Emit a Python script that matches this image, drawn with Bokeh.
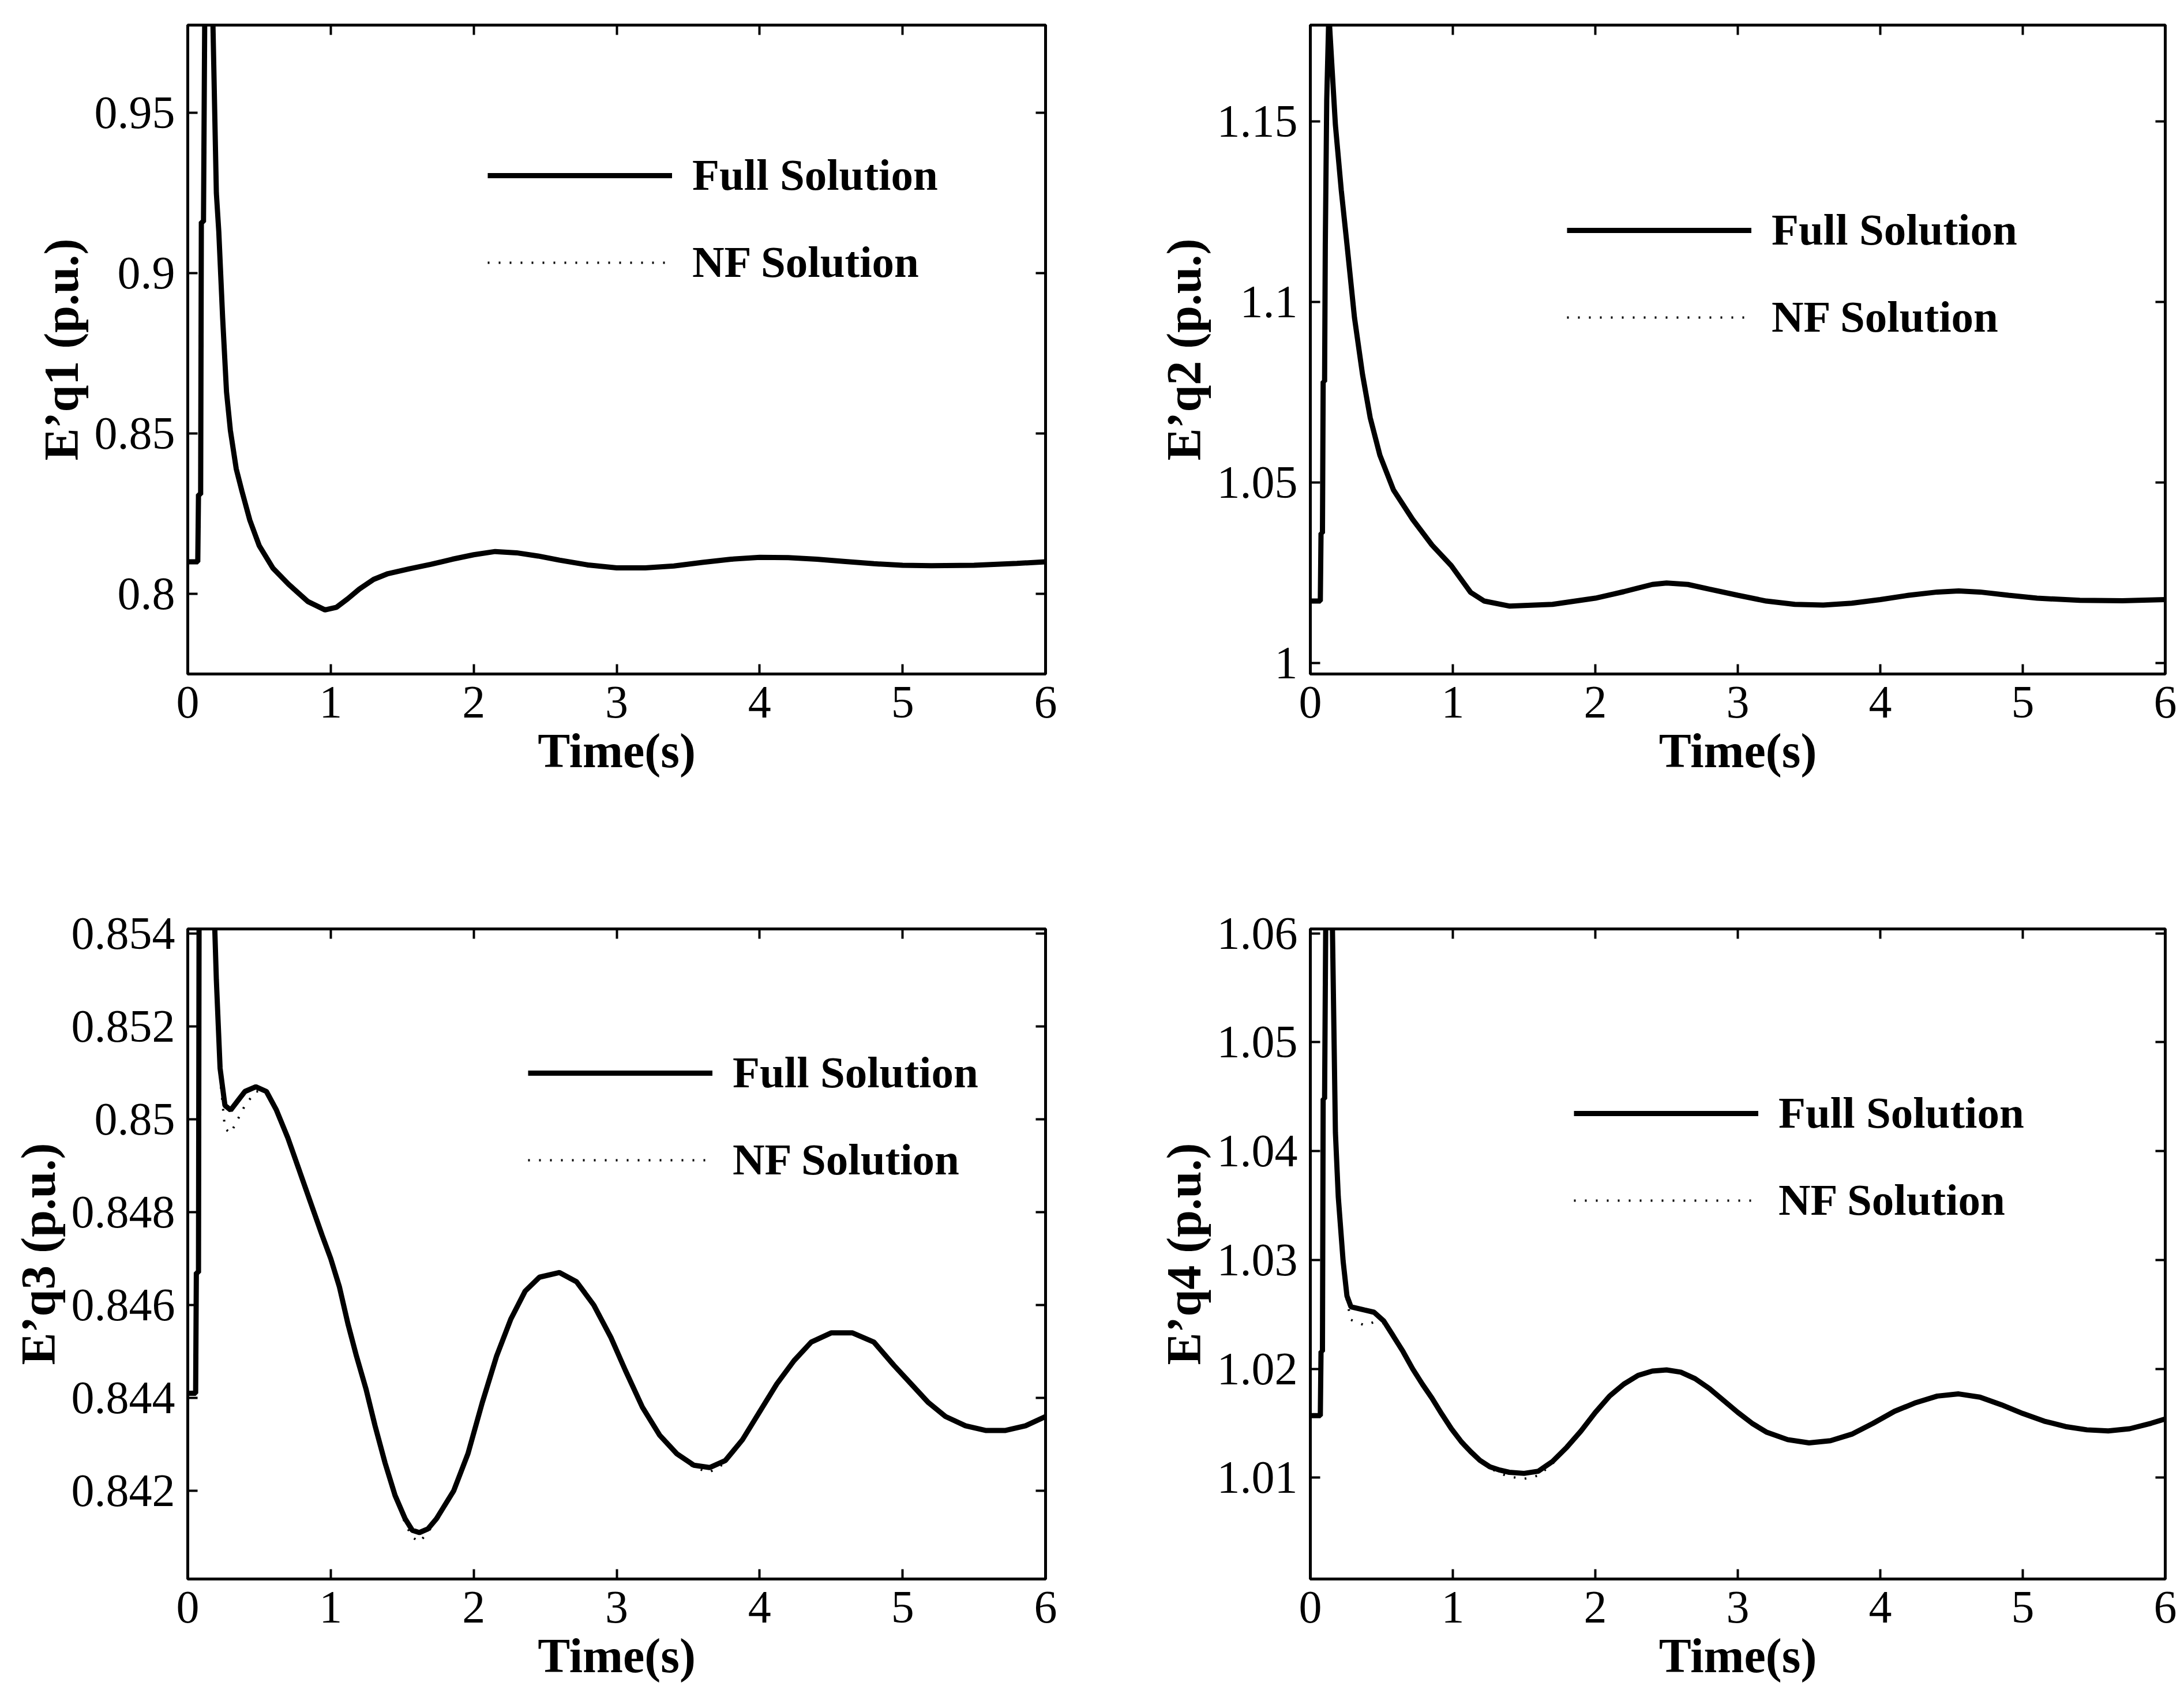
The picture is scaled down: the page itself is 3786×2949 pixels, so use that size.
from bokeh.plotting import figure
from bokeh.models import Range1d, FixedTicker, LinearAxis, Legend, LegendItem
from bokeh.layouts import column, row
from bokeh.embed import file_html
from bokeh.resources import INLINE

# ---------------- data ----------------
time_1 = [0.0, 0.07, 0.075, 0.09, 0.095, 0.11, 0.12, 0.15, 0.175, 0.20, 0.217, 0.244, 0.271, 0.298,
          0.339, 0.379, 0.434, 0.50, 0.596, 0.705, 0.84, 0.96, 1.04, 1.12, 1.2, 1.3, 1.4, 1.55,
          1.7, 1.85, 2.0, 2.15, 2.3, 2.45, 2.6, 2.8, 3.0, 3.2, 3.4, 3.6, 3.8, 4.0, 4.2, 4.4,
          4.6, 4.8, 5.0, 5.2, 5.5, 5.8, 6.0]
full_1 = [0.810, 0.810, 0.831, 0.831, 0.916, 0.916, 0.990, 1.000, 0.980, 0.925, 0.913, 0.886, 0.863, 0.851,
          0.839, 0.832, 0.823, 0.815, 0.808, 0.803, 0.7976, 0.795, 0.7958, 0.7985, 0.8015, 0.8045, 0.8063, 0.8078,
          0.8092, 0.8108, 0.8122, 0.8132, 0.8128, 0.8118, 0.8105, 0.8090, 0.8081, 0.8081, 0.8087, 0.8098, 0.8108,
          0.8114, 0.8113, 0.8108, 0.8101, 0.8094, 0.8089, 0.8088, 0.8089, 0.8095, 0.8100]
nf_1 = [0.810, 0.810, 0.831, 0.831, 0.916, 0.916, 0.990, 1.000, 0.980, 0.925, 0.913, 0.886, 0.863, 0.851,
        0.839, 0.832, 0.823, 0.815, 0.808, 0.803, 0.7974, 0.7948, 0.7955, 0.7984, 0.8015, 0.8045, 0.8063, 0.8078,
        0.8092, 0.8108, 0.8122, 0.8132, 0.8128, 0.8118, 0.8105, 0.8090, 0.8081, 0.8081, 0.8087, 0.8098, 0.8108,
        0.8114, 0.8113, 0.8108, 0.8101, 0.8094, 0.8089, 0.8088, 0.8089, 0.8095, 0.8100]

time_2 = [0.0, 0.07, 0.075, 0.085, 0.09, 0.10, 0.105, 0.115, 0.13, 0.149, 0.176, 0.217, 0.257, 0.31,
          0.366, 0.42, 0.488, 0.583, 0.718, 0.854, 0.989, 1.125, 1.22, 1.4, 1.7, 2.0, 2.2, 2.4,
          2.5, 2.65, 2.8, 3.0, 3.2, 3.4, 3.6, 3.8, 4.0, 4.2, 4.4, 4.55, 4.7, 4.9, 5.1, 5.4, 5.7, 6.0]
full_2 = [1.0172, 1.0172, 1.036, 1.036, 1.078, 1.078, 1.116, 1.156, 1.180, 1.167, 1.149, 1.131, 1.116, 1.0956,
          1.080, 1.068, 1.0576, 1.048, 1.0398, 1.0327, 1.027, 1.0196, 1.0172, 1.0158, 1.0163, 1.0180, 1.0198, 1.0218,
          1.0222, 1.0218, 1.0205, 1.0188, 1.0172, 1.0163, 1.0161, 1.0166, 1.0176, 1.0188, 1.0197, 1.0200, 1.0197,
          1.0188, 1.0180, 1.0174, 1.0173, 1.0176]
nf_2 = [1.0172, 1.0172, 1.036, 1.036, 1.078, 1.078, 1.116, 1.156, 1.180, 1.167, 1.149, 1.131, 1.116, 1.0956,
        1.080, 1.068, 1.0576, 1.048, 1.0398, 1.0327, 1.027, 1.0196, 1.0172, 1.0157, 1.0163, 1.0180, 1.0198, 1.0218,
        1.0222, 1.0218, 1.0205, 1.0188, 1.0172, 1.0163, 1.0160, 1.0166, 1.0176, 1.0188, 1.0197, 1.0200, 1.0197,
        1.0188, 1.0180, 1.0174, 1.0173, 1.0176]

time_3 = [0.0, 0.055, 0.06, 0.075, 0.08, 0.17, 0.20, 0.226, 0.26, 0.30, 0.35, 0.40, 0.476, 0.55,
          0.62, 0.70, 0.78, 0.86, 0.94, 1.0, 1.06, 1.12, 1.18, 1.246, 1.31, 1.38, 1.45, 1.52,
          1.57, 1.62, 1.68, 1.74, 1.86, 1.96, 2.06, 2.16, 2.26, 2.36, 2.46, 2.6, 2.72, 2.84,
          2.96, 3.06, 3.18, 3.3, 3.42, 3.54, 3.65, 3.76, 3.88, 4.0, 4.12, 4.24, 4.36, 4.5,
          4.65, 4.8, 4.94, 5.06, 5.18, 5.3, 5.44, 5.58, 5.72, 5.86, 6.0]
full_3 = [0.8441, 0.8441, 0.8467, 0.8467, 0.8560, 0.8560, 0.8530, 0.8511, 0.8503, 0.8502, 0.8504, 0.8506, 0.8507, 0.8506,
          0.8502, 0.8496, 0.8489, 0.8482, 0.8475, 0.8470, 0.8464, 0.8456, 0.8449, 0.8442, 0.8434, 0.8426, 0.8419, 0.8414,
          0.84115, 0.8411, 0.84118, 0.8414, 0.8420, 0.8428, 0.8439, 0.8449, 0.8457, 0.8463, 0.8466, 0.8467, 0.8465, 0.8460,
          0.8453, 0.8446, 0.8438, 0.8432, 0.8428, 0.84255, 0.8425, 0.84265, 0.8431, 0.8437, 0.8443, 0.8448, 0.8452, 0.8454,
          0.8454, 0.8452, 0.8447, 0.8443, 0.8439, 0.8436, 0.8434, 0.8433, 0.8433, 0.8434, 0.8436]
nf_3 = [0.8441, 0.8441, 0.8467, 0.8467, 0.8560, 0.8560, 0.8530, 0.8509, 0.8498, 0.8497, 0.8500, 0.8503, 0.8506, 0.8506,
        0.8502, 0.8496, 0.8489, 0.8482, 0.8475, 0.8470, 0.8464, 0.8456, 0.8449, 0.8442, 0.8434, 0.8426, 0.8419, 0.8413,
        0.8410, 0.8409, 0.8411, 0.8414, 0.8420, 0.8428, 0.8439, 0.8449, 0.8457, 0.8463, 0.8466, 0.8467, 0.8465, 0.8460,
        0.8453, 0.8446, 0.8438, 0.8432, 0.8428, 0.8425, 0.8424, 0.8426, 0.8431, 0.8437, 0.8443, 0.8448, 0.8452, 0.8454,
        0.8454, 0.8452, 0.8447, 0.8443, 0.8439, 0.8436, 0.8434, 0.8433, 0.8433, 0.8434, 0.8436]

time_4 = [0.0, 0.07, 0.075, 0.085, 0.09, 0.10, 0.11, 0.15, 0.176, 0.196, 0.23, 0.257, 0.285, 0.38,
          0.447, 0.515, 0.583, 0.65, 0.718, 0.786, 0.854, 0.92, 0.99, 1.06, 1.125, 1.19, 1.26, 1.33,
          1.396, 1.5, 1.6, 1.7, 1.8, 1.9, 2.0, 2.1, 2.2, 2.3, 2.4, 2.5, 2.6, 2.7,
          2.8, 2.9, 3.0, 3.1, 3.2, 3.35, 3.5, 3.65, 3.8, 3.95, 4.1, 4.25, 4.4, 4.55,
          4.7, 4.85, 5.0, 5.15, 5.3, 5.45, 5.6, 5.75, 5.9, 6.0]
full_4 = [1.0157, 1.0157, 1.0216, 1.0216, 1.0448, 1.0448, 1.065, 1.065, 1.0417, 1.0358, 1.0299, 1.0267, 1.0257, 1.0254,
          1.0252, 1.0244, 1.0230, 1.0216, 1.0200, 1.0186, 1.0173, 1.0159, 1.0145, 1.0133, 1.0124, 1.0116, 1.0110, 1.0107,
          1.0105, 1.0104, 1.0106, 1.0115, 1.0128, 1.0143, 1.0160, 1.0175, 1.0186, 1.0194, 1.0198, 1.0199, 1.0197, 1.0191,
          1.0182, 1.0171, 1.0160, 1.0150, 1.0142, 1.0135, 1.0132, 1.0134, 1.0140, 1.0150, 1.0161, 1.0169, 1.0175, 1.0177,
          1.0174, 1.0167, 1.0159, 1.0152, 1.0147, 1.0144, 1.0143, 1.0145, 1.0150, 1.0154]
nf_4 = [1.0157, 1.0157, 1.0216, 1.0216, 1.0448, 1.0448, 1.065, 1.065, 1.0417, 1.0358, 1.0299, 1.0262, 1.0245, 1.0240,
        1.0243, 1.0242, 1.0229, 1.0215, 1.0200, 1.0186, 1.0173, 1.0159, 1.0145, 1.0133, 1.0123, 1.0115, 1.0109, 1.0104,
        1.0101, 1.0099, 1.0102, 1.0113, 1.0127, 1.0143, 1.0160, 1.0175, 1.0186, 1.0194, 1.0198, 1.0199, 1.0197, 1.0191,
        1.0182, 1.0171, 1.0160, 1.0150, 1.0142, 1.0135, 1.0131, 1.0134, 1.0140, 1.0150, 1.0161, 1.0169, 1.0175, 1.0177,
        1.0174, 1.0167, 1.0159, 1.0152, 1.0147, 1.0144, 1.0143, 1.0145, 1.0150, 1.0154]

series_names = ["Full Solution", "NF Solution"]
x_label = "Time(s)"
y_labels = ["E\u2019q1 (p.u.)", "E\u2019q2 (p.u.)", "E\u2019q3 (p.u.)", "E\u2019q4 (p.u.)"]

x_ticks = [0, 1, 2, 3, 4, 5, 6]
x_tick_labels = ["0", "1", "2", "3", "4", "5", "6"]
y_ticks_1 = [0.8, 0.85, 0.9, 0.95]
y_tick_labels_1 = ["0.8", "0.85", "0.9", "0.95"]
y_ticks_2 = [1.0, 1.05, 1.1, 1.15]
y_tick_labels_2 = ["1", "1.05", "1.1", "1.15"]
y_ticks_3 = [0.842, 0.844, 0.846, 0.848, 0.85, 0.852, 0.854]
y_tick_labels_3 = ["0.842", "0.844", "0.846", "0.848", "0.85", "0.852", "0.854"]
y_ticks_4 = [1.01, 1.02, 1.03, 1.04, 1.05, 1.06]
y_tick_labels_4 = ["1.01", "1.02", "1.03", "1.04", "1.05", "1.06"]

x_range_all = (0, 6)
y_range_1 = (0.775, 0.9774)
y_range_2 = (0.997, 1.1767)
y_range_3 = (0.8401, 0.8541)
y_range_4 = (1.0007, 1.0604)

FONT = "Liberation Serif"
TICK_LEN = 17


def style_axis(ax, ticks, labels, show_labels=True):
    ax.ticker = FixedTicker(ticks=ticks)
    ax.major_label_overrides = dict(zip(ticks, labels))
    ax.major_tick_in = TICK_LEN
    ax.major_tick_out = 0
    ax.minor_tick_line_color = None
    ax.major_tick_line_width = 4
    ax.major_tick_line_color = "black"
    ax.axis_line_width = 5
    ax.axis_line_color = "black"
    ax.major_label_text_font = FONT
    ax.major_label_text_color = "black"
    ax.major_label_text_font_style = "normal"
    if show_labels:
        ax.major_label_text_font_size = "80px"
    else:
        ax.major_label_text_font_size = "0px"
        ax.major_label_standoff = 0
    ax.axis_label_text_font = FONT
    ax.axis_label_text_font_style = "bold"
    ax.axis_label_text_color = "black"
    ax.axis_label_text_font_size = "84px"


def make(t, full, nf, ylab, yr, yt, ytl, w, h, bl, br, bt, bb, leg_loc):
    p = figure(width=w, height=h, x_range=Range1d(*x_range_all), y_range=Range1d(*yr),
               output_backend="svg", toolbar_location=None,
               min_border_left=bl, min_border_right=br, min_border_top=bt, min_border_bottom=bb)
    p.grid.visible = False
    p.outline_line_color = "black"
    p.outline_line_width = 5
    p.background_fill_color = "white"
    p.border_fill_color = "white"

    r1 = p.line(t, full, line_color="black", line_width=9)
    r2 = p.line(t, nf, line_color="black", line_width=4, line_dash="3 16")

    xa = p.xaxis[0]
    style_axis(xa, x_ticks, x_tick_labels)
    xa.major_label_standoff = 22
    xa.axis_label = x_label
    xa.axis_label_standoff = 8

    ya = p.yaxis[0]
    style_axis(ya, yt, ytl)
    ya.major_label_standoff = 22
    ya.axis_label = ylab
    ya.axis_label_standoff = 8

    # box ticks on the top and right edges (matching the Matlab-style frame)
    top = LinearAxis()
    style_axis(top, x_ticks, x_tick_labels, show_labels=False)
    p.add_layout(top, "above")
    right = LinearAxis()
    style_axis(right, yt, ytl, show_labels=False)
    p.add_layout(right, "right")

    leg = Legend(items=[LegendItem(label=series_names[0], renderers=[r1]),
                        LegendItem(label=series_names[1], renderers=[r2])],
                 location=leg_loc, glyph_width=320, glyph_height=80, label_height=80,
                 spacing=62, padding=0, margin=0, label_standoff=35,
                 border_line_color=None, background_fill_alpha=0,
                 label_text_font=FONT, label_text_font_style="bold",
                 label_text_font_size="77px", label_text_color="black")
    p.add_layout(leg)
    return p


TOP_H = 1398
BOT_H = 1551
LEFT_W = 1832
RIGHT_W = 1954

p1 = make(time_1, full_1, nf_1, y_labels[0], y_range_1, y_ticks_1, y_tick_labels_1,
          LEFT_W, TOP_H, 325, 20, 43, 230, (520, 669))
p2 = make(time_2, full_2, nf_2, y_labels[1], y_range_2, y_ticks_2, y_tick_labels_2,
          RIGHT_W, TOP_H, 439, 33, 43, 230, (445, 574))
p3 = make(time_3, full_3, nf_3, y_labels[2], y_range_3, y_ticks_3, y_tick_labels_3,
          LEFT_W, BOT_H, 325, 20, 212, 212, (590, 682))
p4 = make(time_4, full_4, nf_4, y_labels[3], y_range_4, y_ticks_4, y_tick_labels_4,
          RIGHT_W, BOT_H, 439, 33, 212, 212, (457, 612))

layout = column(row(p1, p2), row(p3, p4))

open("out.html", "w").write(file_html(layout, INLINE))
